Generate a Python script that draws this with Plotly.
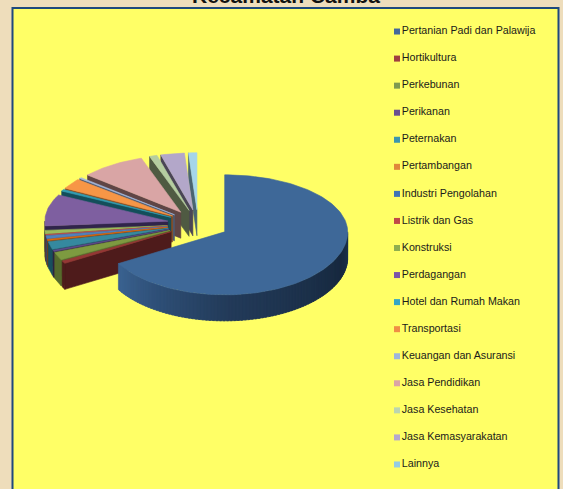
import math
import plotly.graph_objects as go

categories = ["Pertanian Padi dan Palawija", "Hortikultura", "Perkebunan", "Perikanan", "Peternakan",
              "Pertambangan", "Industri Pengolahan", "Listrik dan Gas", "Konstruksi", "Perdagangan",
              "Hotel dan Rumah Makan", "Transportasi", "Keuangan dan Asuransi", "Jasa Pendidikan",
              "Jasa Kesehatan", "Jasa Kemasyarakatan", "Lainnya"]
values = [66.6, 0.7, 2.0, 0.3, 2.0, 0.3, 0.8, 0.2, 0.9, 8.8, 0.5, 2.9, 0.3, 8.5, 1.0, 3.1, 1.1]
top_colors = ["#3E6898", "#953735", "#7D9A40", "#5F4A8B", "#35899F", "#E46C0A", "#4F81BD", "#C0504D",
              "#9BBB59", "#7E5FA0", "#2F9DB5", "#F79646", "#A5B9DC", "#D9A5A5", "#B5CDA0", "#B3A7C9", "#A5D5EA"]
wall_colors = ["#23395A", "#4E1B1B", "#566B2C", "#2F2440", "#174F5E", "#7A3E12", "#2C4A70", "#6B2A28",
               "#4F5F2C", "#30244A", "#134E5A", "#8A4D1F", "#4E5A70", "#5F4545", "#4F5A42", "#4A4555", "#4A6570"]
legend_colors = ["#44689B", "#A04040", "#7F9A50", "#6A4F90", "#3C96AE", "#E0883A", "#3F74B5", "#C04A48",
                 "#8FAE4F", "#7A55A8", "#33A6C5", "#F08E45", "#9DB5DC", "#DBA5A5", "#BBD5B0", "#B5A8CE", "#93CCE5"]
title_text = "Kecamatan Camba"

CX, CY, RX, RUP, RDOWN, DEPTH, EXPLODE = 198, 224, 123, 57, 63, 26, 0.25
W, H = 563, 489


def offset(theta, r):
    s, c = math.sin(theta), -math.cos(theta)
    return r * RX * s, r * (RDOWN if c > 0 else RUP) * c


def arc(a0, a1, ox, oy, dz=0):
    n = max(2, int(abs(a1 - a0) / math.radians(1.5)) + 2)
    pts = []
    for i in range(n):
        t = a0 + (a1 - a0) * i / (n - 1)
        x, y = offset(t, 1)
        pts.append((ox + x, oy + y + dz))
    return pts


def poly(fig, pts, color):
    xs = [p[0] for p in pts] + [pts[0][0]]
    ys = [p[1] for p in pts] + [pts[0][1]]
    fig.add_trace(go.Scatter(x=xs, y=ys, mode="lines", fill="toself", fillcolor=color,
                             line=dict(color=color, width=0.6), hoverinfo="skip", showlegend=False))


def mix(c1, c2, f):
    a = [int(c1[i:i + 2], 16) for i in (1, 3, 5)]
    b = [int(c2[i:i + 2], 16) for i in (1, 3, 5)]
    return "#%02x%02x%02x" % tuple(round(u + (v - u) * f) for u, v in zip(a, b))


fig = go.Figure()

# slice angles from values
total = sum(values)
slices = []
acc = 0.0
for v in values:
    a0 = acc / total * 2 * math.pi
    acc += v
    a1 = acc / total * 2 * math.pi
    slices.append((a0, a1))

# back to front: last category first, the large slice last
for i in list(range(len(values) - 1, -1, -1)):
    a0, a1 = slices[i]
    dx, dy = offset((a0 + a1) / 2, EXPLODE)
    vx, vy = CX + dx, CY + dy
    # flat wall at the starting edge (faces the viewer on the left half)
    if a0 > math.pi:
        ex, ey = arc(a0, a0, vx, vy)[0]
        poly(fig, [(vx, vy), (ex, ey), (ex, ey + DEPTH), (vx, vy + DEPTH)], wall_colors[i])
    # curved outer wall, only the front half
    w0, w1 = max(a0, math.pi / 2), min(a1, 3 * math.pi / 2)
    if w1 > w0:
        if i == 0:
            stops = [(w0, "#1E3550"), (w0 + 0.35, "#17293F"), (math.pi, "#233B5A"),
                     (math.pi + 0.6, "#2F5078"), (w1, "#3B6391")]
            n = 90
            for k in range(n):
                s0 = w0 + (w1 - w0) * k / n
                s1 = min(w0 + (w1 - w0) * (k + 1.5) / n, w1)
                mid = (s0 + s1) / 2
                for j in range(len(stops) - 1):
                    if stops[j][0] <= mid <= stops[j + 1][0]:
                        f = (mid - stops[j][0]) / (stops[j + 1][0] - stops[j][0])
                        col = mix(stops[j][1], stops[j + 1][1], f)
                        break
                poly(fig, arc(s0, s1, vx, vy) + arc(s1, s0, vx, vy, DEPTH), col)
        else:
            poly(fig, arc(w0, w1, vx, vy) + arc(w1, w0, vx, vy, DEPTH), wall_colors[i])
    # top surface
    poly(fig, [(vx, vy)] + arc(a0, a1, vx, vy), top_colors[i])

# legend drawn as a category-axis trace
fig.add_trace(go.Scatter(x=[0] * len(categories), y=categories, xaxis="x2", yaxis="y2",
                         mode="markers+text", text=categories, textposition="middle right",
                         textfont=dict(family="Liberation Sans", size=10.7, color="#1a1a1a"),
                         marker=dict(symbol="square", size=6, color=legend_colors),
                         hoverinfo="skip", showlegend=False, cliponaxis=False))

fig.update_layout(
    width=W, height=H, autosize=False,
    margin=dict(l=0, r=0, t=0, b=0),
    paper_bgcolor="#EEDDBB", plot_bgcolor="rgba(0,0,0,0)",
    showlegend=False,
    xaxis=dict(range=[0, W], visible=False, domain=[0, 1], fixedrange=True),
    yaxis=dict(range=[H, 0], visible=False, domain=[0, 1], fixedrange=True),
    xaxis2=dict(range=[-397, W - 397], visible=False, domain=[0, 1], anchor="y2"),
    yaxis2=dict(type="category", range=[16.5, -0.5], visible=False, anchor="x2",
                domain=[1 - 478 / H, 1 - 18 / H]),
    shapes=[dict(type="rect", xref="x", yref="y", x0=12.5, x1=558.5, y0=8, y1=H + 5,
                 fillcolor="#FFFF66", line=dict(color="#1F497D", width=2), layer="below")],
    annotations=[dict(text=title_text, x=286, y=9.5, xref="x", yref="y", xanchor="center", yanchor="bottom",
                      showarrow=False, font=dict(family="Liberation Sans", size=21, color="#111111", weight="bold"))],
)

fig.write_html("out.html", config={"displayModeBar": False},
               post_script="document.body.style.margin='0';document.body.style.overflow='hidden';")
